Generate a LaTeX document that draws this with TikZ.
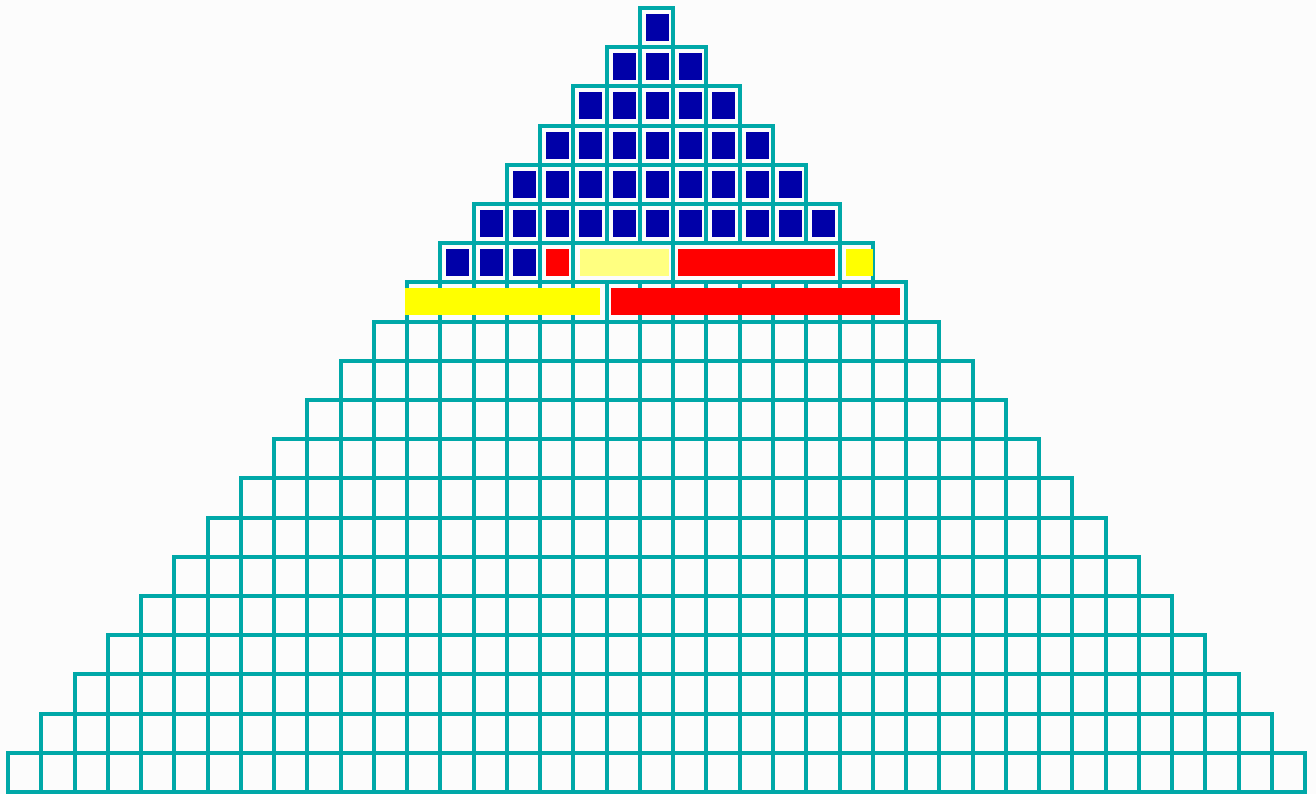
\documentclass[tikz,border=0pt]{standalone}
\usepackage{tikz}
\definecolor{gridteal}{RGB}{0,168,168}
\definecolor{cellblue}{RGB}{0,0,168}
\definecolor{barred}{RGB}{255,0,0}
\definecolor{baryellow}{RGB}{255,255,0}
\definecolor{paleyellow}{RGB}{255,255,128}
\definecolor{pagebg}{RGB}{252,252,252}

\begin{document}
\begin{tikzpicture}[x=0.5pt,y=-0.5pt,
  cell/.style={draw=gridteal,line width=2pt},
  sq/.style={fill=cellblue},
  bar/.style={fill=#1}
]
\fill[pagebg] (0,0) rectangle (1316,794);
\foreach \r in {1,...,6,8,9,...,20}{
  \pgfmathtruncatemacro\first{20-\r}
  \pgfmathtruncatemacro\last{18+\r}
  \foreach \c in {\first,...,\last}
    \draw[cell] ({8+\c*33.26},{8+(\r-1)*39.2}) rectangle ++(33.26,39.2);
}
\foreach \c in {13,...,16,25}
  \draw[cell] ({8+\c*33.26},243.2) rectangle ++(33.26,39.2);
\draw[cell] ({8+17*33.26},243.2) rectangle ({8+20*33.26},282.4);
\draw[cell] ({8+20*33.26},243.2) rectangle ({8+25*33.26},282.4);

\foreach \r in {1,...,6}{
  \pgfmathtruncatemacro\first{20-\r}
  \pgfmathtruncatemacro\last{18+\r}
  \foreach \c in {\first,...,\last}
    \fill[sq] ({14+\c*33.26},{14+(\r-1)*39.2}) rectangle ++(23,27);
}
\foreach \c in {13,14,15}
  \fill[sq] ({14+\c*33.26},249.2) rectangle ++(23,27);
\fill[bar=barred] ({14+16*33.26},249.2) rectangle ++(23,27);
\fill[bar=paleyellow] ({8+17*33.26+6.5},249.2) rectangle ({8+20*33.26-4},276.2);
\fill[bar=barred] ({8+20*33.26+5},249.2) rectangle ({8+25*33.26-4.5},276.2);
\fill[bar=baryellow] ({8+25*33.26+6.5},249.2) rectangle ({8+26*33.26+0.5},276.2);
\fill[bar=baryellow] ({8+12*33.26-2},288.4) rectangle ({8+18*33.26-6.5},315.4);
\fill[bar=barred] ({8+18*33.26+4.5},288.4) rectangle ({8+27*33.26-6},315.4);
\end{tikzpicture}
\end{document}
